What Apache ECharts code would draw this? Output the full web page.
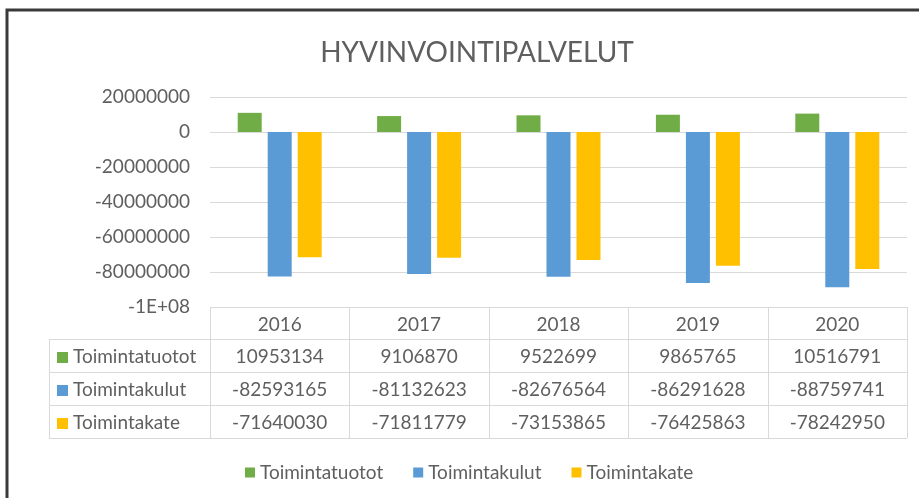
<!DOCTYPE html>
<html>
<head>
<meta charset="utf-8">
<script src="https://cdn.jsdelivr.net/npm/echarts@6/dist/echarts.min.js"></script>
<style>
  html, body { margin: 0; padding: 0; background: #fff; }
  #chart { width: 919px; height: 498px; }
</style>
</head>
<body>
<div id="chart"></div>
<script>
const years = ['2016', '2017', '2018', '2019', '2020']
const seriesNames = ['Toimintatuotot', 'Toimintakulut', 'Toimintakate']
const toimintatuotot = [10953134, 9106870, 9522699, 9865765, 10516791]
const toimintakulut = [-82593165, -81132623, -82676564, -86291628, -88759741]
const toimintakate = [-71640030, -71811779, -73153865, -76425863, -78242950]
const yTicks = [20000000, 0, -20000000, -40000000, -60000000, -80000000, -100000000]
const yTickLabels = ['20000000', '0', '-20000000', '-40000000', '-60000000', '-80000000', '-1E+08']

const colors = ['#70AD47', '#5B9BD5', '#FFC000']
const textColor = '#5f5f5f'
const lineColor = '#d9d9d9'
const fontFamily = 'Lato, "Open Sans", sans-serif'

// plot area (pixels)
const plotLeft = 210
const plotRight = 907
const plotTop = 97
const plotBottom = 307
const W = 919
const H = 498

const chart = echarts.init(document.getElementById('chart'), null, { renderer: 'canvas' })

// data table under the plot
const buildTable = () => {
  const els = []
  const colW = (plotRight - plotLeft) / years.length
  const labelLeft = 49
  const rowH = 33
  const headerTop = plotBottom
  const rowsTop = headerTop + rowH - 1
  const tableBottom = rowsTop + rowH * 3
  const line = (x1, y1, x2, y2) => ({
    type: 'line',
    shape: { x1, y1, x2, y2 },
    style: { stroke: lineColor, lineWidth: 1 },
    silent: true,
  })

  // horizontal lines
  els.push(line(plotLeft, headerTop + 0.5, plotRight, headerTop + 0.5))
  for (let r = 0; r <= 3; r++) {
    const y = Math.round(rowsTop + r * rowH) + 0.5
    els.push(line(labelLeft, y, plotRight, y))
  }
  // vertical lines
  els.push(line(labelLeft + 0.5, rowsTop, labelLeft + 0.5, tableBottom))
  for (let c = 0; c <= years.length; c++) {
    const x = Math.round(plotLeft + c * colW) + 0.5
    els.push(line(x, headerTop, x, tableBottom))
  }

  const cellText = (text, x, y, align) => ({
    type: 'text',
    x,
    y,
    style: {
      text,
      fill: textColor,
      font: '19px ' + fontFamily,
      align: align || 'center',
      verticalAlign: 'middle',
    },
    silent: true,
  })

  years.forEach((yr, i) => {
    els.push(cellText(yr, plotLeft + (i + 0.5) * colW, headerTop + rowH / 2 + 1))
  })

  const rows = [toimintatuotot, toimintakulut, toimintakate]
  rows.forEach((vals, r) => {
    const cy = rowsTop + r * rowH + rowH / 2 + 1
    els.push({
      type: 'rect',
      shape: { x: 57, y: Math.round(cy - 5), width: 11, height: 11 },
      style: { fill: colors[r] },
      silent: true,
    })
    els.push(cellText(seriesNames[r], 73, cy, 'left'))
    vals.forEach((v, i) => {
      els.push(cellText(String(v), plotLeft + (i + 0.5) * colW, cy))
    })
  })

  // frame around the whole chart (cropped on right and bottom)
  els.push({
    type: 'polyline',
    shape: { points: [[7, H + 5], [7, 10], [W + 5, 10]] },
    style: { stroke: '#3a3a3a', lineWidth: 3, fill: null },
    silent: true,
  })
  return els
}

const option = {
  backgroundColor: '#ffffff',
  color: colors,
  animation: false,
  title: {
    text: 'HYVINVOINTIPALVELUT',
    left: 472,
    textAlign: 'center',
    top: 34,
    textStyle: {
      color: textColor,
      fontFamily,
      fontSize: 28,
      fontWeight: 'normal',
    },
  },
  legend: {
    data: seriesNames,
    left: 240,
    top: 458,
    icon: 'rect',
    itemWidth: 10,
    itemHeight: 10,
    itemGap: 30,
    textStyle: { color: textColor, fontFamily, fontSize: 19 },
  },
  grid: {
    left: plotLeft,
    right: W - plotRight,
    top: plotTop,
    bottom: H - plotBottom,
    containLabel: false,
  },
  xAxis: {
    type: 'category',
    data: years,
    axisLine: { show: false },
    axisTick: { show: false },
    axisLabel: { show: false },
  },
  yAxis: {
    type: 'value',
    min: -100000000,
    max: 20000000,
    interval: 20000000,
    axisLine: { show: false },
    axisTick: { show: false },
    axisLabel: {
      color: textColor,
      fontFamily,
      fontSize: 19,
      margin: 20,
      formatter: (v) => {
        const i = yTicks.indexOf(v)
        return i >= 0 ? yTickLabels[i] : String(v)
      },
    },
    splitLine: { lineStyle: { color: lineColor, width: 1 } },
  },
  series: [
    { name: seriesNames[0], type: 'bar', data: toimintatuotot, barWidth: 24, barGap: '25%' },
    { name: seriesNames[1], type: 'bar', data: toimintakulut, barWidth: 24, barGap: '25%' },
    { name: seriesNames[2], type: 'bar', data: toimintakate, barWidth: 24, barGap: '25%' },
  ],
  graphic: buildTable(),
}

chart.setOption(option)
</script>
</body>
</html>
